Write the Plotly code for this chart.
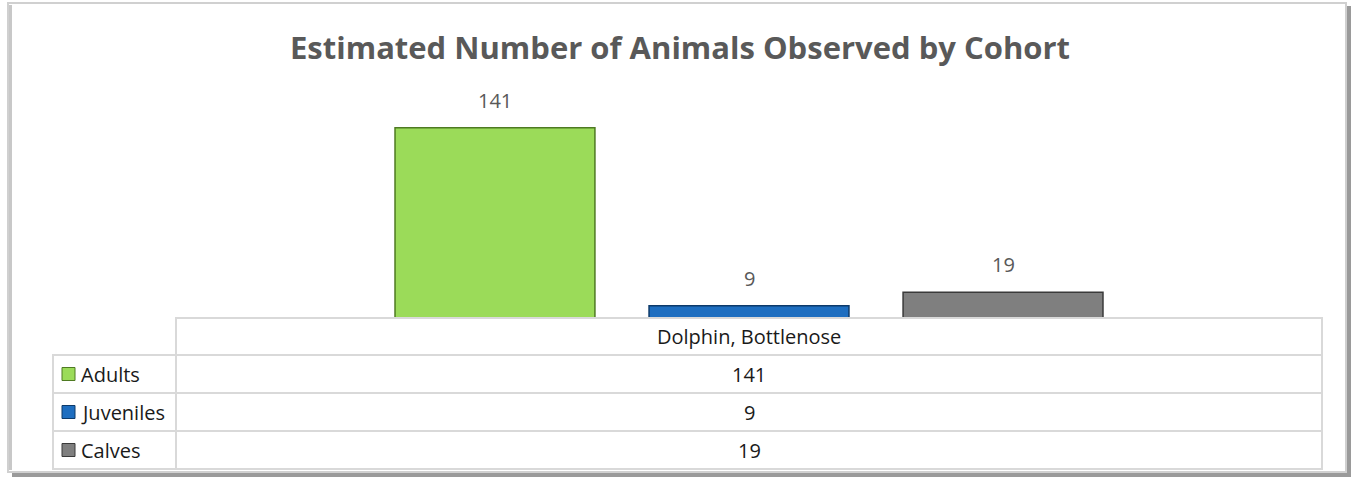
import plotly.graph_objects as go

W, H = 1358, 478

# ---- data ----
category = ["Dolphin, Bottlenose"]
series_names = ["Adults", "Juveniles", "Calves"]
series_values = [[141], [9], [19]]
series_colors = ["#9BDB59", "#1E6EC0", "#7F7F7F"]
edge_colors = ["#4E7A22", "#0D3A6A", "#3A3A3A"]
title_text = "Estimated Number of Animals Observed by Cohort"

FONT = "'Open Sans', Lato, sans-serif"

def X(px):
    return px / W

def Y(py):
    return 1 - py / H

BARGAP = 0.335
GROUPGAP = 0.213

fig = go.Figure()
for name, vals, col, ec in zip(series_names, series_values, series_colors, edge_colors):
    fig.add_trace(go.Bar(
        x=category, y=vals, name=name,
        marker=dict(color=col, line=dict(color=ec, width=1.5)),
        showlegend=False, hoverinfo="skip"))

shapes = []
annotations = []

# data labels above bars (category-index coordinates)
n = len(series_names)
slot = (1 - BARGAP) / n
for ci, _ in enumerate(category):
    for si, vals in enumerate(series_values):
        xpos = ci - (1 - BARGAP) / 2 + slot * (si + 0.5)
        annotations.append(dict(
            x=xpos, y=vals[ci], xref="x", yref="y", text=str(vals[ci]),
            showarrow=False, xanchor="center", yanchor="bottom", yshift=12,
            font=dict(family=FONT, size=20, color="#595959")))

# outer frame with shadow
shapes.append(dict(type="rect", xref="paper", yref="paper", x0=X(1346), x1=X(1351), y0=Y(6), y1=Y(477),
                   fillcolor="#9a9a9a", line=dict(width=0), layer="below"))
shapes.append(dict(type="rect", xref="paper", yref="paper", x0=X(12), x1=X(1351), y0=Y(472), y1=Y(477),
                   fillcolor="#9a9a9a", line=dict(width=0), layer="below"))
shapes.append(dict(type="rect", xref="paper", yref="paper", x0=X(8), x1=X(1346), y0=Y(3), y1=Y(472),
                   fillcolor="white", line=dict(color="#d0d0d0", width=2), layer="below"))
shapes.append(dict(type="line", xref="paper", yref="paper", x0=X(10.5), x1=X(10.5), y0=Y(5), y1=Y(470),
                   line=dict(color="#c8c8c8", width=3), layer="below"))

# data table grid
grid = "#d9d9d9"
tl, tc, tr = 53, 176, 1322
rows = [318, 355, 393, 431, 469]
shapes.append(dict(type="rect", xref="paper", yref="paper", x0=X(tc), x1=X(tr), y0=Y(rows[0]), y1=Y(rows[1]),
                   line=dict(color=grid, width=2)))
for r in range(1, 4):
    shapes.append(dict(type="rect", xref="paper", yref="paper", x0=X(tl), x1=X(tr), y0=Y(rows[r]), y1=Y(rows[r + 1]),
                       line=dict(color=grid, width=2)))
shapes.append(dict(type="line", xref="paper", yref="paper", x0=X(tc), x1=X(tc), y0=Y(rows[1]), y1=Y(rows[4]),
                   line=dict(color=grid, width=2)))

font_t = dict(family=FONT, size=20, color="#1a1a1a")
annotations.append(dict(x=X((tc + tr) / 2), y=Y((rows[0] + rows[1]) / 2), xref="paper", yref="paper",
                        text=category[0], showarrow=False, xanchor="center", yanchor="middle", font=font_t))
for i, (name, vals, col, ec) in enumerate(zip(series_names, series_values, series_colors, edge_colors)):
    yc = (rows[i + 1] + rows[i + 2]) / 2
    shapes.append(dict(type="rect", xref="paper", yref="paper", x0=X(62), x1=X(75), y0=Y(yc - 6.5), y1=Y(yc + 6.5),
                       fillcolor=col, line=dict(color=ec, width=1)))
    annotations.append(dict(x=X(79), y=Y(yc), xref="paper", yref="paper", text=name, showarrow=False,
                            xanchor="left", yanchor="middle", font=font_t))
    annotations.append(dict(x=X((tc + tr) / 2), y=Y(yc), xref="paper", yref="paper", text=str(vals[0]),
                            showarrow=False, xanchor="center", yanchor="middle", font=font_t))

annotations.append(dict(x=X(680), y=Y(47), xref="paper", yref="paper", text="<b>" + title_text + "</b>",
                        showarrow=False, xanchor="center", yanchor="middle",
                        font=dict(family=FONT, size=31, color="#595959")))

fig.update_layout(
    width=W, height=H, margin=dict(l=0, r=0, t=0, b=0),
    paper_bgcolor="white", plot_bgcolor="rgba(0,0,0,0)",
    barmode="group", bargap=BARGAP, bargroupgap=GROUPGAP,
    xaxis=dict(domain=[X(tc), X(tr)], showticklabels=False, showgrid=False, zeroline=False,
               showline=False, ticks=""),
    yaxis=dict(domain=[Y(318), Y(102)], range=[0, 160], showticklabels=False, showgrid=False,
               zeroline=False, showline=False, ticks=""),
    shapes=shapes, annotations=annotations,
)

fig.write_html("out.html")
